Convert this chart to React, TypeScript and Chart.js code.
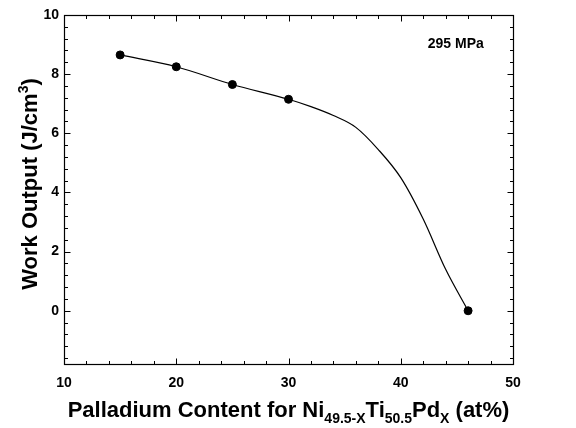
import { useEffect, useRef } from 'react';
import { Chart, registerables } from 'chart.js';

Chart.register(...registerables);

const FONT = '"Liberation Sans", Arial, Helvetica, sans-serif';

// Measured points (Pd content, work output)
const pdContent = [15, 20, 25, 30, 46];
const workOutput = [8.65, 8.25, 7.65, 7.15, 0];

// Smooth guide curve
const curveX = [15, 20, 25, 30, 32, 34, 36, 38, 40, 42, 44, 46];
const curveY = [8.65, 8.25, 7.65, 7.15, 6.9, 6.6, 6.2, 5.45, 4.5, 3.1, 1.4, 0];

// Axes
const xMin = 10;
const xMax = 50;
const yMin = -1.8;
const yMax = 10;
const xMajorTicks = [10, 20, 30, 40, 50];
const yMajorTicks = [0, 2, 4, 6, 8, 10];
const xMinorStep = 2;
const yMinorStep = 0.4;

const annotationText = '295 MPa';
const annotationX = 47.4;
const annotationY = 9.0;

export default function App() {
  const ref = useRef<HTMLCanvasElement>(null);

  useEffect(() => {
    const canvas = ref.current;
    if (!canvas) return;

    const framePlugin = {
      id: 'frameAndTitles',
      afterDraw(chart: any) {
        const { ctx, chartArea: a, scales } = chart;
        const xs = scales.x;
        const ys = scales.y;
        ctx.save();
        ctx.strokeStyle = '#000';
        ctx.lineWidth = 1.2;
        const L = Math.round(a.left) + 0.5;
        const R = Math.round(a.right) + 0.5;
        const T = Math.round(a.top) + 0.5;
        const B = Math.round(a.bottom) + 0.5;
        ctx.strokeRect(L, T, R - L, B - T);

        ctx.lineWidth = 1;
        const majorLen = 6;
        const minorLen = 3.5;
        ctx.beginPath();
        const nx = Math.round((xMax - xMin) / xMinorStep);
        for (let i = 0; i <= nx; i++) {
          const v = xMin + i * xMinorStep;
          const isMajor = xMajorTicks.some((m) => Math.abs(m - v) < 1e-6);
          const len = isMajor ? majorLen : minorLen;
          const px = Math.round(xs.getPixelForValue(v)) + 0.5;
          ctx.moveTo(px, B);
          ctx.lineTo(px, B - len);
          ctx.moveTo(px, T);
          ctx.lineTo(px, T + len);
        }
        const kMin = Math.ceil(yMin / yMinorStep - 1e-6);
        const kMax = Math.floor(yMax / yMinorStep + 1e-6);
        for (let k = kMin; k <= kMax; k++) {
          const v = k * yMinorStep;
          const isMajor = yMajorTicks.some((m) => Math.abs(m - v) < 1e-6);
          const len = isMajor ? majorLen : minorLen;
          const py = Math.round(ys.getPixelForValue(v)) + 0.5;
          ctx.moveTo(L, py);
          ctx.lineTo(L + len, py);
          ctx.moveTo(R, py);
          ctx.lineTo(R - len, py);
        }
        ctx.stroke();

        // annotation
        ctx.fillStyle = '#000';
        ctx.font = `bold 14px ${FONT}`;
        ctx.textAlign = 'right';
        ctx.textBaseline = 'middle';
        ctx.fillText(annotationText, xs.getPixelForValue(annotationX), ys.getPixelForValue(annotationY));

        // x title with subscripts
        const mainFont = `bold 22px ${FONT}`;
        const subFont = `bold 14px ${FONT}`;
        const xParts: [string, boolean][] = [
          ['Palladium Content for Ni', false],
          ['49.5-X', true],
          ['Ti', false],
          ['50.5', true],
          ['Pd', false],
          ['X', true],
          [' (at%)', false],
        ];
        let total = 0;
        const widths = xParts.map(([t, sub]) => {
          ctx.font = sub ? subFont : mainFont;
          const w = ctx.measureText(t).width;
          total += w;
          return w;
        });
        let cx = (a.left + a.right) / 2 - total / 2;
        const baseY = 417;
        ctx.textAlign = 'left';
        ctx.textBaseline = 'alphabetic';
        xParts.forEach(([t, sub], i) => {
          ctx.font = sub ? subFont : mainFont;
          ctx.fillText(t, cx, sub ? baseY + 6 : baseY);
          cx += widths[i];
        });

        // y title with superscript
        const yParts: [string, boolean][] = [
          ['Work Output (J/cm', false],
          ['3', true],
          [')', false],
        ];
        let ytotal = 0;
        const ywidths = yParts.map(([t, sup]) => {
          ctx.font = sup ? subFont : mainFont;
          const w = ctx.measureText(t).width;
          ytotal += w;
          return w;
        });
        ctx.translate(37, 184);
        ctx.rotate(-Math.PI / 2);
        let yx = -ytotal / 2;
        yParts.forEach(([t, sup], i) => {
          ctx.font = sup ? subFont : mainFont;
          ctx.fillText(t, yx, sup ? -9 : 0);
          yx += ywidths[i];
        });
        ctx.restore();
      },
    };

    const chart = new Chart(canvas, {
      type: 'scatter',
      data: {
        datasets: [
          {
            label: 'curve',
            data: curveX.map((x, i) => ({ x, y: curveY[i] })),
            showLine: true,
            borderColor: '#000',
            borderWidth: 1.2,
            pointRadius: 0,
            cubicInterpolationMode: 'monotone',
            fill: false,
          },
          {
            label: 'Work output',
            data: pdContent.map((x, i) => ({ x, y: workOutput[i] })),
            showLine: false,
            backgroundColor: '#000',
            borderColor: '#000',
            pointRadius: 4,
            pointHoverRadius: 4,
          },
        ],
      },
      options: {
        responsive: false,
        animation: false,
        layout: { padding: { left: 0, top: 15, right: 63, bottom: 0 } },
        plugins: { legend: { display: false }, tooltip: { enabled: false } },
        scales: {
          x: {
            type: 'linear',
            min: xMin,
            max: xMax,
            afterBuildTicks: (s: any) => {
              s.ticks = xMajorTicks.map((v) => ({ value: v }));
            },
            afterFit: (s: any) => {
              s.height = 64;
            },
            grid: { display: false, drawTicks: false },
            border: { display: false },
            ticks: {
              color: '#000',
              padding: 11,
              maxRotation: 0,
              font: { family: FONT, size: 14, weight: 'bold' },
            },
          },
          y: {
            type: 'linear',
            min: yMin,
            max: yMax,
            afterBuildTicks: (s: any) => {
              s.ticks = yMajorTicks.map((v) => ({ value: v }));
            },
            afterFit: (s: any) => {
              s.width = 64;
            },
            grid: { display: false, drawTicks: false },
            border: { display: false },
            ticks: {
              color: '#000',
              padding: 5,
              font: { family: FONT, size: 14, weight: 'bold' },
            },
          },
        },
      },
      plugins: [framePlugin],
    } as any);

    return () => chart.destroy();
  }, []);

  return (
    <div style={{ position: 'absolute', left: 0, top: 0, width: 576, height: 428, background: '#fff' }}>
      <canvas ref={ref} width={576} height={428} style={{ display: 'block' }} />
    </div>
  );
}
